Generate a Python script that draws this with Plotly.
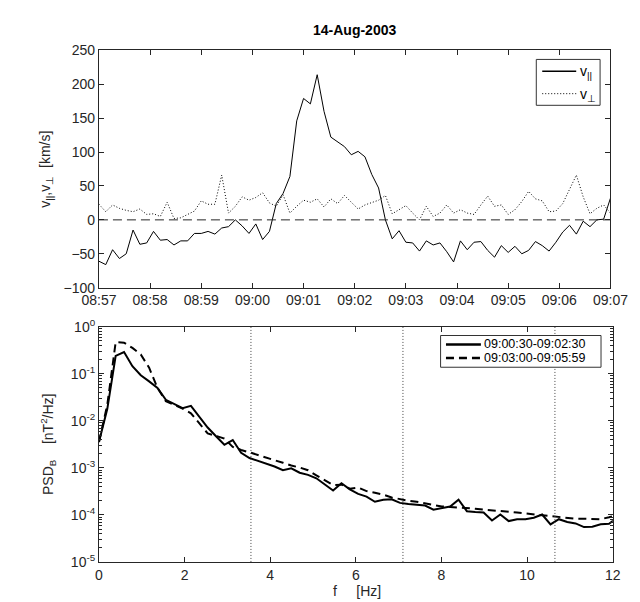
import pandas as pd
import plotly.graph_objects as go

W, H = 640, 602

# ---------------- data: top panel (velocity, 8 s cadence) ----------------
t_start = "2003-08-14 08:57:00"
t_end = "2003-08-14 09:07:00"
v_par = [-61, -66, -44, -57, -50, -15, -36, -34, -17, -30,
         -29, -37, -31, -31, -20, -20, -17, -21, -12, -10,
         0, -9, -20, -6, -29, -17, 24, 39, 64, 146,
         179, 171, 214, 160, 122, 115, 108, 96, 101, 93,
         67, 47, 0, -28, -16, -33, -34, -46, -31, -37,
         -34, -47, -62, -31, -44, -33, -32, -45, -55, -38,
         -48, -39, -50, -45, -32, -38, -46, -33, -18, -8,
         -21, -2, -10, 0, 1, 32]
v_perp = [23, 12, 22, 17, 14, 12, 16, 8, 9, 5,
          26, 2, 3, 8, 13, 28, 23, 23, 66, 10,
          20, 34, 29, 33, 40, 25, 20, 37, 10, 20,
          29, 26, 31, 19, 31, 24, 36, 26, 16, 22,
          26, 29, 36, 9, 15, 21, 10, 0, 20, 5,
          10, 22, 10, 15, 10, 8, 22, 35, 20, 22,
          8, 15, 27, 42, 31, 28, 12, 13, 24, 46,
          66, 34, 9, 17, 22, 10]
times = pd.date_range(t_start, periods=len(v_par), freq="8s")

# ---------------- data: bottom panel (PSD) ----------------
df_hz = 25 / 128
psd_a = [3.55e-3, 1.8e-2, 0.24, 0.29, 0.145, 0.093, 0.069, 0.050, 0.028, 0.0224,
         0.0186, 0.0209, 0.0120, 0.0072, 0.0047, 0.0031, 0.0039, 0.0021, 1.62e-3, 1.41e-3,
         1.26e-3, 1.07e-3, 8.9e-4, 9.8e-4, 7.9e-4, 7.1e-4, 6.0e-4, 4.4e-4, 3.3e-4, 4.7e-4,
         3.5e-4, 2.8e-4, 2.45e-4, 1.9e-4, 2.1e-4, 2.15e-4, 1.8e-4, 1.7e-4, 1.66e-4, 1.58e-4,
         1.29e-4, 1.41e-4, 1.51e-4, 2.1e-4, 1.2e-4, 1.15e-4, 1.12e-4, 7.6e-5, 1.02e-4, 7.4e-5,
         8.1e-5, 8.1e-5, 8.7e-5, 1.02e-4, 6.3e-5, 8.1e-5, 7.1e-5, 6.6e-5, 5.5e-5, 5.6e-5,
         6.3e-5, 6.5e-5, 8.9e-5]
psd_b = [3.55e-3, 2.2e-2, 0.47, 0.46, 0.355, 0.257, 0.135, 0.050, 0.026, 0.0219,
         0.0182, 0.0145, 0.0089, 0.0054, 0.0048, 0.0042, 0.0028, 0.0024, 2.14e-3, 1.86e-3,
         1.62e-3, 1.45e-3, 1.29e-3, 1.12e-3, 1.02e-3, 8.9e-4, 6.9e-4, 5.4e-4, 4.3e-4, 4.4e-4,
         3.6e-4, 3.8e-4, 3.2e-4, 2.95e-4, 2.7e-4, 2.35e-4, 2.14e-4, 2.0e-4, 1.9e-4, 1.78e-4,
         1.62e-4, 1.51e-4, 1.48e-4, 1.45e-4, 1.41e-4, 1.35e-4, 1.29e-4, 1.26e-4, 1.2e-4, 1.17e-4,
         1.12e-4, 1.07e-4, 1.05e-4, 1.0e-4, 9.5e-5, 9.1e-5, 8.7e-5, 8.3e-5, 8.3e-5, 8.3e-5,
         8.1e-5, 8.9e-5, 1.0e-4]
freq = [k * df_hz for k in range(len(psd_a))]
f_marks = [3.55, 7.1, 10.65]
labels_psd = ["09:00:30-09:02:30", "09:03:00-09:05:59"]
log_ticks = [1e-5, 1e-4, 1e-3, 1e-2, 1e-1, 1e0]
log_ticktext = ["10<sup>-5</sup>", "10<sup>-4</sup>", "10<sup>-3</sup>",
                "10<sup>-2</sup>", "10<sup>-1</sup>", "10<sup>0</sup>"]

FONT = "Liberation Sans, Arial, Helvetica, sans-serif"
AX = "#262626"


def px(x):
    return x / W


def py(y):
    return 1 - y / H


fig = go.Figure()
fig.add_trace(go.Scatter(x=times, y=v_par, mode="lines", xaxis="x", yaxis="y",
                         line=dict(color="black", width=1), showlegend=False))
fig.add_trace(go.Scatter(x=times, y=v_perp, mode="lines", xaxis="x", yaxis="y",
                         line=dict(color="black", width=1, dash="1px,2px"), showlegend=False))
fig.add_trace(go.Scatter(x=freq, y=psd_a, mode="lines", xaxis="x2", yaxis="y2",
                         line=dict(color="black", width=2), showlegend=False))
fig.add_trace(go.Scatter(x=freq, y=psd_b, mode="lines", xaxis="x2", yaxis="y2",
                         line=dict(color="black", width=2, dash="8px,5px"), showlegend=False))

common = dict(showline=True, linecolor=AX, linewidth=1, mirror="allticks",
              ticks="inside", ticklen=5, tickwidth=1, tickcolor=AX,
              showgrid=False, zeroline=False,
              tickfont=dict(family=FONT, size=14, color=AX))

shapes = []
# zero line on top panel
shapes.append(dict(type="line", xref="x domain", yref="y", x0=0, x1=1, y0=0, y1=0,
                   line=dict(color=AX, width=1, dash="9px,5px"), layer="above"))
# vertical dotted markers on bottom panel
for fm in f_marks:
    shapes.append(dict(type="line", xref="x2", yref="y2 domain", x0=fm, x1=fm, y0=0, y1=1,
                       line=dict(color="#444444", width=1, dash="1px,2px"), layer="above"))

annotations = []

# ---- manual legend (top) ----
shapes.append(dict(type="rect", xref="paper", yref="paper", x0=px(540.7), x1=px(608.3),
                   y0=py(90), y1=py(42.7), line=dict(color="#333333", width=1),
                   fillcolor="white", layer="above"))
shapes.append(dict(type="line", xref="paper", yref="paper", x0=px(547), x1=px(583),
                   y0=py(55), y1=py(55), line=dict(color="black", width=1.5), layer="above"))
shapes.append(dict(type="line", xref="paper", yref="paper", x0=px(547), x1=px(583),
                   y0=py(78), y1=py(78), line=dict(color="black", width=1, dash="1px,2px"),
                   layer="above"))
annotations.append(dict(xref="paper", yref="paper", x=px(585), y=py(56), xanchor="left",
                        yanchor="middle", showarrow=False, text="v<sub>||</sub>",
                        font=dict(family=FONT, size=14, color="black")))
annotations.append(dict(xref="paper", yref="paper", x=px(585), y=py(79), xanchor="left",
                        yanchor="middle", showarrow=False, text="v<sub>⊥</sub>",
                        font=dict(family=FONT, size=14, color="black")))

# ---- manual legend (bottom) ----
shapes.append(dict(type="rect", xref="paper", yref="paper", x0=px(439.3), x1=px(609.3),
                   y0=py(360), y1=py(327.3), line=dict(color="#333333", width=1),
                   fillcolor="white", layer="above"))
shapes.append(dict(type="line", xref="paper", yref="paper", x0=px(445), x1=px(482),
                   y0=py(336.5), y1=py(336.5), line=dict(color="black", width=2.5), layer="above"))
shapes.append(dict(type="line", xref="paper", yref="paper", x0=px(445), x1=px(482),
                   y0=py(350.5), y1=py(350.5), line=dict(color="black", width=2.5, dash="8px,5px"),
                   layer="above"))
for yy, lab in zip([336.5, 350.5], labels_psd):
    annotations.append(dict(xref="paper", yref="paper", x=px(483), y=py(yy), xanchor="left",
                            yanchor="middle", showarrow=False, text=lab,
                            font=dict(family=FONT, size=12.5, color="black")))

# ---- titles / axis labels ----
annotations.append(dict(xref="paper", yref="paper", x=px(348), y=py(12), xanchor="center",
                        yanchor="middle", showarrow=False, text="<b>14-Aug-2003</b>",
                        font=dict(family=FONT, size=14, color="black")))
annotations.append(dict(xref="paper", yref="paper", x=px(21), y=py(155.6), xanchor="center",
                        yanchor="middle", showarrow=False, textangle=-90,
                        text="v<sub>||</sub>,v<sub>⊥</sub>\u00a0\u00a0[km/s]",
                        font=dict(family=FONT, size=14, color=AX)))
annotations.append(dict(xref="paper", yref="paper", x=px(24), y=py(439.5), xanchor="center",
                        yanchor="middle", showarrow=False, textangle=-90,
                        text="PSD<sub>B</sub>\u00a0\u00a0\u00a0\u00a0[nT<sup>2</sup>/Hz]",
                        font=dict(family=FONT, size=14, color=AX)))
annotations.append(dict(xref="paper", yref="paper", x=px(351), y=py(591), xanchor="center",
                        yanchor="middle", showarrow=False,
                        text="f\u00a0\u00a0\u00a0\u00a0\u00a0[Hz]",
                        font=dict(family=FONT, size=14, color=AX)))

fig.update_layout(
    width=W, height=H,
    margin=dict(l=0, r=0, t=0, b=0),
    paper_bgcolor="white", plot_bgcolor="white",
    showlegend=False,
    xaxis=dict(common, domain=[px(77.3), px(619.3)], anchor="y", type="date",
               range=[t_start, t_end], tick0=t_start, dtick=60000, tickformat="%H:%M"),
    yaxis=dict(common, domain=[py(278), py(33.3)], anchor="x", range=[-100, 250],
               dtick=50, tick0=0),
    xaxis2=dict(common, domain=[px(77.3), px(621.7)], anchor="y2", range=[0, 12],
                dtick=2, tick0=0),
    yaxis2=dict(common, domain=[py(560.7), py(318.3)], anchor="x2", type="log",
                range=[-5, 0], tickvals=log_ticks, ticktext=log_ticktext,
                minor=dict(ticks="inside", ticklen=3, tickcolor=AX, dtick="D1", showgrid=False)),
    shapes=shapes,
    annotations=annotations,
)

fig.write_html("out.html")
